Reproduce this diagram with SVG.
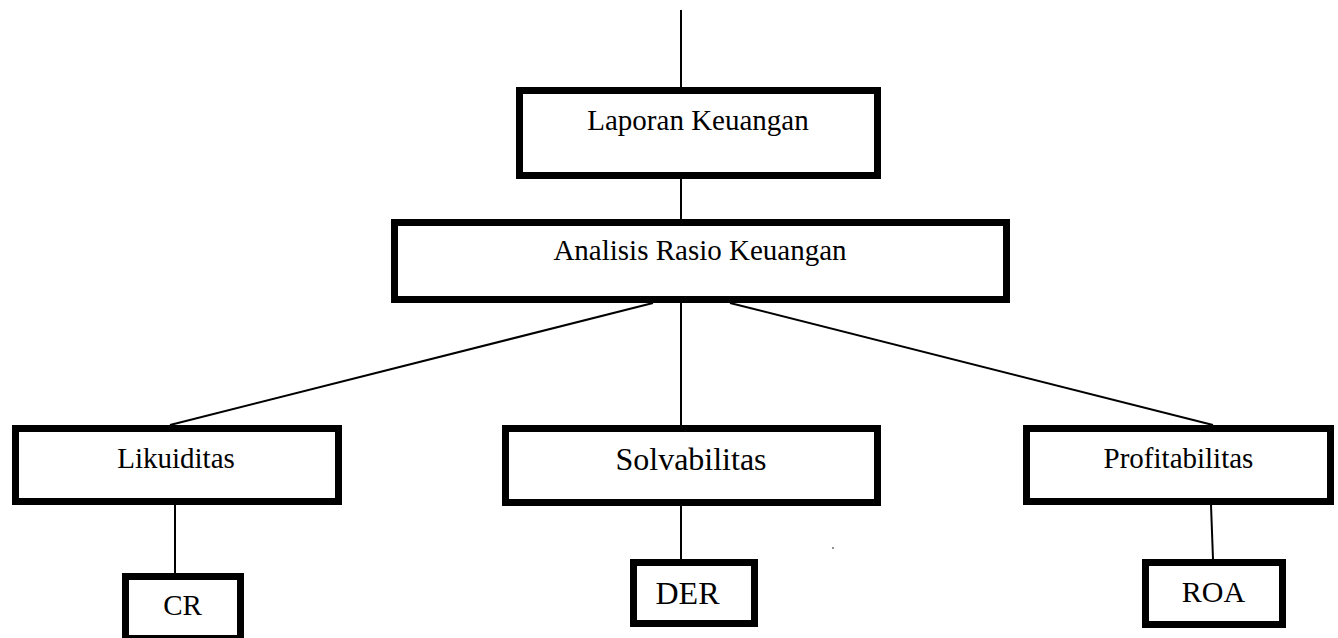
<svg xmlns="http://www.w3.org/2000/svg" width="1338" height="638" viewBox="0 0 1338 638">
<style>
.box{fill:#fff;stroke:#000;stroke-width:7}
.lbl{font-family:'Liberation Serif','Tinos','Times New Roman','Noto Serif','DejaVu Serif',serif;fill:#000;text-anchor:middle}
.c{stroke:#000;stroke-width:2;fill:none}
</style>
<rect width="1338" height="638" fill="#fff"/>
<g id="connectors">
<line class="c" x1="681" y1="10" x2="681" y2="87"/>
<line class="c" x1="681" y1="179" x2="681" y2="219"/>
<line class="c" x1="653" y1="303" x2="170" y2="425"/>
<line class="c" x1="681" y1="303" x2="681" y2="425"/>
<line class="c" x1="730" y1="303" x2="1213" y2="425"/>
<line class="c" x1="175" y1="505" x2="175" y2="573"/>
<line class="c" x1="681" y1="506" x2="681" y2="559"/>
<line class="c" x1="1211" y1="505" x2="1213" y2="559"/>
</g>
<g id="laporan"><rect class="box" x="519.5" y="90.5" width="358" height="85"/><text class="lbl" x="698" y="130" font-size="29">Laporan Keuangan</text></g>
<g id="analisis"><rect class="box" x="394.5" y="222.5" width="612" height="77"/><text class="lbl" x="700" y="260" font-size="29">Analisis Rasio Keuangan</text></g>
<g id="likuiditas"><rect class="box" x="15.5" y="428.5" width="323" height="73"/><text class="lbl" x="176" y="468" font-size="29">Likuiditas</text></g>
<g id="solvabilitas"><rect class="box" x="505.5" y="428.5" width="372" height="74"/><text class="lbl" x="691" y="470" font-size="32">Solvabilitas</text></g>
<g id="profitabilitas"><rect class="box" x="1026.5" y="428.5" width="304" height="73"/><text class="lbl" x="1178.5" y="468" font-size="29">Profitabilitas</text></g>
<g id="cr"><rect class="box" x="125.5" y="576.5" width="115" height="62"/><text class="lbl" x="182.5" y="615" font-size="29">CR</text></g>
<g id="der"><rect class="box" x="633.5" y="562.5" width="121" height="61"/><text class="lbl" x="687.5" y="604" font-size="32">DER</text></g>
<g id="roa"><rect class="box" x="1145.5" y="562.5" width="137" height="62"/><text class="lbl" x="1213.5" y="602" font-size="30">ROA</text></g>
<circle cx="833" cy="548" r="0.8" fill="#000"/>
</svg>
